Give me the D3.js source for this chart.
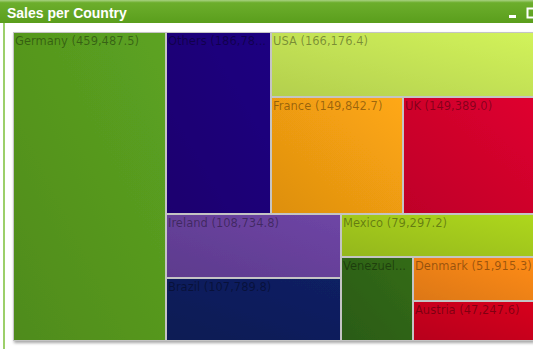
<!DOCTYPE html>
<html>
<head>
<meta charset="utf-8">
<script src="https://cdn.jsdelivr.net/npm/d3@7"></script>
<style>
  html, body { margin: 0; padding: 0; background: #fff; overflow: hidden; }
  svg { display: block; }
</style>
</head>
<body>
<svg id="chart" width="533" height="349"></svg>
<script>
// Sales per country
const countries = ["Germany", "Others", "USA", "France", "UK", "Ireland", "Brazil", "Mexico", "Venezuela", "Denmark", "Austria"];
const sales = [459487.5, 186780.0, 166176.4, 149842.7, 149389.0, 108734.8, 107789.8, 79297.2, 59000.0, 51915.3, 47247.6];
// How the blocks nest (indices into countries); slice/dice alternates per level
const blockNesting = [0, [[1, [2, [3, 4]]], [[5, 6], [7, [8, [9, 10]]]]]];
const palette = ["#56981f", "#1c0078", "#c4e255", "#f29c12", "#d0042c", "#66409a", "#0c1e5c", "#a2c81c", "#2f6414", "#f08214", "#c8001c"];
const title = "Sales per Country";

const W = 533, H = 349;
const svg = d3.select("#chart");
const defs = svg.append("defs");

// ---- window frame ----
const tg = defs.append("linearGradient").attr("id", "titleGrad")
  .attr("x1", 0).attr("y1", 0).attr("x2", 0).attr("y2", 1);
tg.append("stop").attr("offset", "0%").attr("stop-color", "#a9d283");
tg.append("stop").attr("offset", "12%").attr("stop-color", "#6cae2c");
tg.append("stop").attr("offset", "100%").attr("stop-color", "#5a9e1c");

svg.append("rect").attr("x", 0).attr("y", 0).attr("width", W).attr("height", 23)
  .attr("fill", "url(#titleGrad)");
svg.append("rect").attr("x", 3).attr("y", 23).attr("width", 2).attr("height", H - 23)
  .attr("fill", "#9ccf6a");

svg.append("text").attr("x", 7).attr("y", 18)
  .attr("font-family", "Liberation Sans, Arial, sans-serif")
  .attr("font-weight", "bold").attr("font-size", 14)
  .attr("fill", "#ffffff").text(title);

// minimize / maximize buttons
svg.append("rect").attr("x", 509).attr("y", 15).attr("width", 7).attr("height", 3).attr("fill", "#ffffff");
svg.append("rect").attr("x", 527.5).attr("y", 8.5).attr("width", 10).attr("height", 9)
  .attr("fill", "none").attr("stroke", "#ffffff").attr("stroke-width", 2);

// ---- treemap ----
const box = { x: 13, y: 32, w: 521, h: 309 };

function toNode(n) {
  return Array.isArray(n)
    ? { children: n.map(toNode) }
    : { name: countries[n], value: sales[n], idx: n };
}

const root = d3.hierarchy(toNode(blockNesting)).sum(d => d.value || 0);
d3.treemap().tile(d3.treemapSliceDice).size([box.w, box.h]).round(true)(root);

const leaves = root.leaves();

leaves.forEach(d => {
  const c = d3.color(palette[d.data.idx]);
  const g = defs.append("linearGradient").attr("id", "cell" + d.data.idx)
    .attr("x1", 1).attr("y1", 0).attr("x2", 0).attr("y2", 1);
  g.append("stop").attr("offset", "0%").attr("stop-color", c.brighter(0.2).formatHex());
  g.append("stop").attr("offset", "100%").attr("stop-color", c.darker(0.25).formatHex());
});

const shadow = defs.append("filter").attr("id", "shadow")
  .attr("x", "-5%").attr("y", "-5%").attr("width", "110%").attr("height", "110%");
shadow.append("feDropShadow").attr("dx", 1).attr("dy", 2).attr("stdDeviation", 1.5)
  .attr("flood-color", "#000").attr("flood-opacity", 0.35);

const map = svg.append("g").attr("transform", `translate(${box.x},${box.y})`);

map.append("g").attr("filter", "url(#shadow)")
  .selectAll("rect").data(leaves).join("rect")
  .attr("x", d => d.x0 + 0.5).attr("y", d => d.y0 + 0.5)
  .attr("width", d => d.x1 - d.x0 - 1).attr("height", d => d.y1 - d.y0 - 1)
  .attr("fill", d => `url(#cell${d.data.idx})`)
  .attr("stroke", "#c4c4c4").attr("stroke-width", 1);

const fmt = d3.format(",.1f");
const labels = map.append("g").selectAll("text").data(leaves).join("text")
  .attr("x", d => d.x0 + 2).attr("y", d => d.y0 + 13)
  .attr("font-family", "DejaVu Sans, Verdana, sans-serif").attr("font-size", 11.5)
  .attr("fill", "#000").attr("fill-opacity", 0.38)
  .text(d => `${d.data.name} (${fmt(d.data.value)})`);

// shorten labels that do not fit their block
labels.each(function(d) {
  const el = d3.select(this);
  const maxW = d.x1 - d.x0 - 3;
  const full = el.text();
  if (this.getComputedTextLength() <= maxW) return;
  let n = full.length;
  while (n > 0) {
    n--;
    el.text(full.slice(0, n) + "...");
    if (this.getComputedTextLength() <= maxW) break;
  }
});
</script>
</body>
</html>
